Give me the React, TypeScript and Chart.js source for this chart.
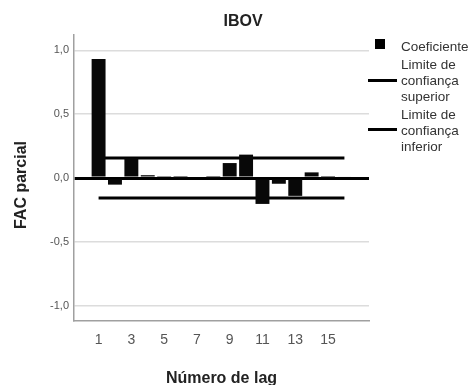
import React, { useEffect, useRef } from "react";
import { Chart, registerables } from "chart.js";

Chart.register(...registerables);

const chartTitle = "IBOV";
const yTitle = "FAC parcial";
const xTitle = "Número de lag";
const lags = [1, 2, 3, 4, 5, 6, 7, 8, 9, 10, 11, 12, 13, 14, 15, 16];
const pacf = [0.932, -0.052, 0.155, 0.022, 0.015, 0.001, 0.0, 0.001, 0.117, 0.183, -0.203, -0.045, -0.14, 0.044, 0.001, 0.012];
const upperLimit = [0.156, 0.156, 0.156, 0.156, 0.156, 0.156, 0.156, 0.156, 0.156, 0.156, 0.156, 0.156, 0.156, 0.156, 0.156, 0.156];
const lowerLimit = [-0.156, -0.156, -0.156, -0.156, -0.156, -0.156, -0.156, -0.156, -0.156, -0.156, -0.156, -0.156, -0.156, -0.156, -0.156, -0.156];
const xTickValues = [1, 3, 5, 7, 9, 11, 13, 15];
const yTickValues = [-1, -0.5, 0, 0.5, 1];
const legendCoef = "Coeficiente";
const legendUpper = ["Limite de", "confiança", "superior"];
const legendLower = ["Limite de", "confiança", "inferior"];

const FONT = "'Liberation Sans', Arial, Helvetica, sans-serif";

const extrasPlugin = {
  id: "extras",
  afterDraw(chart: any) {
    const ctx = chart.ctx as CanvasRenderingContext2D;
    const area = chart.chartArea;
    ctx.save();
    // chart title
    ctx.fillStyle = "#222";
    ctx.font = `bold 16px ${FONT}`;
    ctx.textAlign = "center";
    ctx.textBaseline = "middle";
    ctx.fillText(chartTitle, 243, 22);

    // y axis title
    ctx.save();
    ctx.translate(22, 185);
    ctx.rotate(-Math.PI / 2);
    ctx.fillText(yTitle, 0, 0);
    ctx.restore();

    // legend
    const lx = area.right;
    ctx.fillStyle = "#000";
    ctx.fillRect(lx + 6, 39, 10, 10);
    ctx.strokeStyle = "#000";
    ctx.lineWidth = 3;
    ctx.beginPath();
    ctx.moveTo(lx - 1, 80.5);
    ctx.lineTo(lx + 28, 80.5);
    ctx.moveTo(lx - 1, 129.5);
    ctx.lineTo(lx + 28, 129.5);
    ctx.stroke();

    ctx.fillStyle = "#333";
    ctx.font = `13.5px ${FONT}`;
    ctx.textAlign = "left";
    ctx.textBaseline = "middle";
    const tx = lx + 32;
    ctx.fillText(legendCoef, tx, 47);
    legendUpper.forEach((t, i) => ctx.fillText(t, tx, 65 + i * 16));
    legendLower.forEach((t, i) => ctx.fillText(t, tx, 115 + i * 16));
    ctx.restore();
  },
};

export default function App() {
  const ref = useRef<HTMLCanvasElement | null>(null);

  useEffect(() => {
    if (!ref.current) return;
    const chart = new Chart(ref.current, {
      type: "bar",
      data: {
        datasets: [
          {
            type: "line",
            label: "Limite de confiança superior",
            data: lags.map((l, i) => ({ x: l, y: upperLimit[i] })),
            borderColor: "#000",
            borderWidth: 3,
            pointRadius: 0,
            fill: false,
            order: 2,
          } as any,
          {
            type: "line",
            label: "Limite de confiança inferior",
            data: lags.map((l, i) => ({ x: l, y: lowerLimit[i] })),
            borderColor: "#000",
            borderWidth: 3,
            pointRadius: 0,
            fill: false,
            order: 2,
          } as any,
          {
            type: "bar",
            label: "Coeficiente",
            data: lags.map((l, i) => ({ x: l, y: pacf[i] })),
            backgroundColor: "#080808",
            borderWidth: 0,
            categoryPercentage: 1,
            barPercentage: 0.85,
            order: 1,
          } as any,
        ],
      },
      options: {
        responsive: false,
        animation: false,
        devicePixelRatio: 1,
        layout: { padding: { left: 0, right: 105, top: 35, bottom: 0 } },
        plugins: {
          legend: { display: false },
          title: { display: false },
          tooltip: { enabled: false },
        },
        scales: {
          x: {
            type: "linear",
            min: -0.5,
            max: 17.5,
            offset: false,
            grid: { display: false, offset: false, drawTicks: false },
            border: { display: true, color: "#a0a0a0", width: 1.5 },
            afterBuildTicks: (scale: any) => {
              scale.ticks = xTickValues.map((v) => ({ value: v }));
            },
            afterFit: (scale: any) => {
              scale.height = 64;
            },
            ticks: {
              autoSkip: false,
              maxRotation: 0,
              color: "#555",
              font: { family: FONT, size: 14 },
              padding: 11,
              callback: (v: any) => String(v),
            },
            title: {
              display: true,
              text: xTitle,
              color: "#222",
              font: { family: FONT, size: 16, weight: "bold", lineHeight: 0.85 },
              padding: { top: 0, bottom: 0 },
            },
          },
          y: {
            type: "linear",
            min: -1.12,
            max: 1.12,
            grid: {
              drawTicks: false,
              color: (c: any) => (c.tick && c.tick.value === 0 ? "#000" : "#dcdcdc"),
              lineWidth: (c: any) => (c.tick && c.tick.value === 0 ? 3 : 1.5),
            },
            border: { display: true, color: "#a0a0a0", width: 1.5 },
            afterBuildTicks: (scale: any) => {
              scale.ticks = yTickValues.map((v) => ({ value: v }));
            },
            afterFit: (scale: any) => {
              scale.width = 74;
            },
            ticks: {
              color: "#555",
              font: { family: FONT, size: 11 },
              padding: 5,
              callback: (v: any) => Number(v).toFixed(1).replace(".", ","),
            },
            title: { display: false },
          },
        },
      } as any,
      plugins: [extrasPlugin],
    });
    return () => chart.destroy();
  }, []);

  return (
    <div style={{ position: "absolute", left: 0, top: 0, width: 474, height: 385, background: "#fff" }}>
      <canvas ref={ref} width={474} height={385} style={{ display: "block" }} />
    </div>
  );
}
